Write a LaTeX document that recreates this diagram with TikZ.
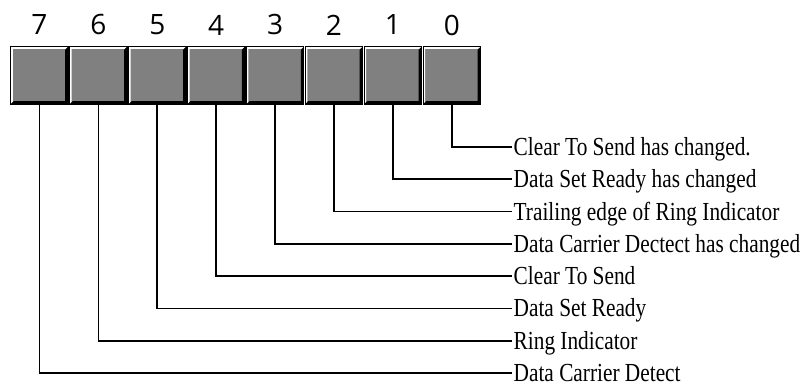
\documentclass[tikz,border=0pt]{standalone}
\usepackage{fontspec}
\usetikzlibrary{calc}
\newfontfamily\digitfont{Open Sans}
\newfontfamily\labelfont[FakeStretch=0.82]{Liberation Serif}
\newcommand{\BITPITCH}{58.9}
\newcommand{\LINESTEP}{32.3}
\definecolor{boxgray}{RGB}{128,128,128}

\begin{document}
\begin{tikzpicture}[x=1pt,y=-1pt,
    bitbox/.style={inner sep=0pt,minimum width=57pt,minimum height=57pt,fill=boxgray},
    bitnum/.style={inner sep=0pt,font=\digitfont\fontsize{28}{30}\selectfont},
    bitlabel/.style={anchor=west,inner xsep=1.5pt,inner ysep=0pt,text height=17pt,text depth=0pt,
      font=\labelfont\fontsize{26}{28}\selectfont},
    wire/.style={line width=1.8pt}]
  \useasboundingbox (0,0) rectangle (809,387);

  \foreach \b in {0,1,...,7}{% one box per bit, bit 7 on the left
    \node[bitbox](b\b) at ({39.5+\BITPITCH*(7-\b)},75.5) {};
    \node[bitnum](d\b) at ({39.5+\BITPITCH*(7-\b)},25) {\b};
    % bevels: light top-left, dark bottom-right
    \fill[white] (b\b.north west) -- (b\b.north east) -- ($(b\b.north east)+(-2,2)$)
      -- ($(b\b.north west)+(2,2)$) -- ($(b\b.south west)+(2,-2)$) -- (b\b.south west) -- cycle;
    \fill[black] (b\b.south east) -- (b\b.north east) -- ($(b\b.north east)+(-3,3)$)
      -- ($(b\b.south east)+(-3,-3)$) -- ($(b\b.south west)+(3,-3)$) -- (b\b.south west) -- cycle;
    \draw[line width=0.8pt] (b\b.north west) rectangle (b\b.south east);
  }

  \foreach \b/\txt in {0/Clear To Send has changed.,1/Data Set Ready has changed,
      2/Trailing edge of Ring Indicator,3/Data Carrier Dectect has changed,
      4/Clear To Send,5/Data Set Ready,6/Ring Indicator,7/Data Carrier Detect}{%
    \node[bitlabel](l\b) at (512,{147+\LINESTEP*\b}) {\txt};
    \draw[wire] (b\b.south) |- (l\b.west);
  }
\end{tikzpicture}
\end{document}
